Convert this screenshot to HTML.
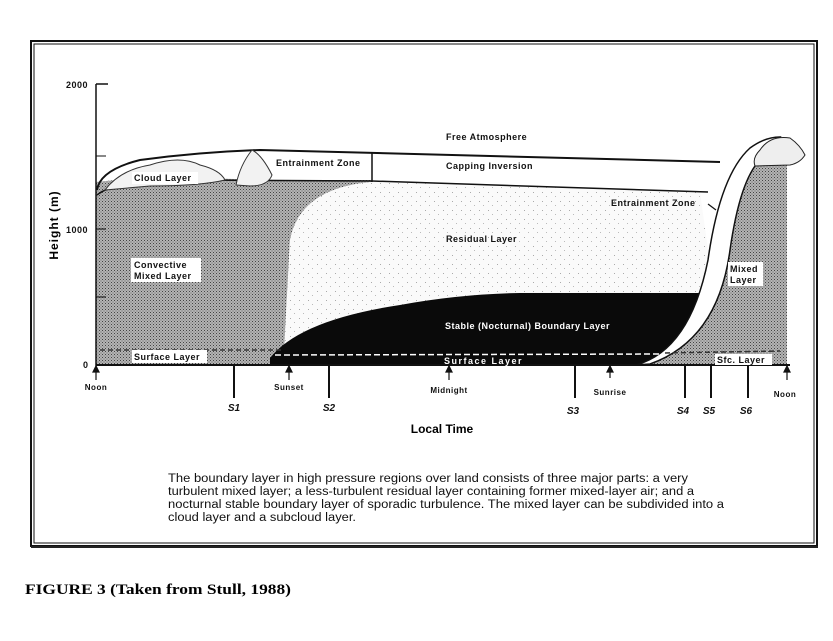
<!DOCTYPE html>
<html><head><meta charset="utf-8"><style>
html,body{margin:0;padding:0;background:#fff;}
svg{display:block;}
.l{font-family:"Liberation Sans",sans-serif;font-weight:bold;font-size:9px;fill:#111;letter-spacing:0.5px;}
</style></head><body>
<svg width="833" height="641" viewBox="0 0 833 641" xmlns="http://www.w3.org/2000/svg">
<defs>
<pattern id="dots" width="3" height="3" patternUnits="userSpaceOnUse">
<rect width="3" height="3" fill="#b4b4b4"/><rect width="1" height="1" fill="#444"/><rect x="1.5" y="1.5" width="1" height="1" fill="#666"/>
</pattern>
<pattern id="sp" width="9" height="9" patternUnits="userSpaceOnUse">
<rect width="9" height="9" fill="#fafafa"/><rect x="2" y="3" width="1" height="1" fill="#aaa"/><rect x="6" y="7" width="1" height="1" fill="#bbb"/>
</pattern>
</defs>
<!-- frame -->
<rect x="31" y="41" width="786" height="505" fill="none" stroke="#111" stroke-width="2"/>
<rect x="34" y="44" width="780" height="499" fill="none" stroke="#111" stroke-width="1"/>
<line x1="31" y1="547" x2="818" y2="547" stroke="#222" stroke-width="2"/>

<path d="M96 182 Q150 176 200 178 L270 180 L372 180 L372 182 Q300 188 290 240 L284 352 L270 365 L96 365 Z" fill="url(#dots)"/>
<path d="M372 182 L700 192 L715 300 L700 300 L640 365 L284 365 L284 352 L290 240 Q300 188 372 182 Z" fill="url(#sp)"/>
<path d="M270 358 Q300 320 400 305 Q460 294 520 293 L705 293 Q690 340 640 365 L270 365 Z" fill="#0a0a0a"/>
<path d="M640 365 Q700 345 718 260 Q730 190 755 166 L787 165 L787 365 Z" fill="url(#dots)"/>
<path d="M636 365 Q690 350 708 260 Q720 175 750 148 Q765 137 780 137 L760 160 Q740 180 730 250 Q718 340 650 364 Z" fill="#fff" stroke="#111" stroke-width="1.5"/>
<path d="M760 150 Q770 135 790 138 Q800 145 805 155 Q800 163 790 165 L755 166 Q752 158 760 150 Z" fill="#eee" stroke="#222" stroke-width="1"/>
<path d="M97 190 Q100 170 140 160 Q200 152 260 150 L720 162" fill="none" stroke="#111" stroke-width="2"/>
<path d="M372 181 L708 192" fill="none" stroke="#111" stroke-width="1.5"/>
<path d="M97 195 Q110 184 150 182 L200 180 L372 181" fill="none" stroke="#111" stroke-width="1.5"/>
<line x1="372" y1="152" x2="372" y2="182" stroke="#111" stroke-width="1.5"/>
<rect x="274" y="154" width="96" height="24" fill="#fff"/>
<path d="M105 190 Q120 170 150 165 Q180 155 200 165 Q220 170 225 180 Q200 186 150 186 Z" fill="#f2f2f2" stroke="#333" stroke-width="1"/>
<path d="M236 185 Q240 165 252 150 Q262 155 272 175 Q268 186 250 186 Z" fill="#f2f2f2" stroke="#333" stroke-width="1"/>
<line x1="100" y1="350" x2="284" y2="350" stroke="#333" stroke-width="1.5" stroke-dasharray="5,3"/>
<line x1="275" y1="355" x2="665" y2="354" stroke="#fff" stroke-width="1.5" stroke-dasharray="6,3"/>
<line x1="665" y1="353" x2="780" y2="351" stroke="#333" stroke-width="1.5" stroke-dasharray="5,3"/>
<line x1="96" y1="84" x2="96" y2="366" stroke="#111" stroke-width="1.5"/>
<line x1="96" y1="84" x2="108" y2="84" stroke="#111" stroke-width="1.5"/>
<line x1="96" y1="156" x2="106" y2="156" stroke="#111"/>
<line x1="96" y1="229" x2="106" y2="229" stroke="#111"/>
<line x1="96" y1="297" x2="106" y2="297" stroke="#111"/>
<line x1="96" y1="365" x2="790" y2="365" stroke="#111" stroke-width="2"/>
<text class="l" x="66" y="88">2000</text>
<text class="l" x="66" y="233">1000</text>
<text class="l" x="83" y="368">0</text>
<text x="58" y="225" transform="rotate(-90 58 225)" text-anchor="middle" style="font-family:'Liberation Sans',sans-serif;font-weight:bold;font-size:12px;letter-spacing:1px">Height (m)</text>
<g stroke="#111" stroke-width="2">
<line x1="234" y1="365" x2="234" y2="398"/><line x1="329" y1="365" x2="329" y2="398"/>
<line x1="575" y1="365" x2="575" y2="398"/><line x1="685" y1="365" x2="685" y2="398"/>
<line x1="711" y1="365" x2="711" y2="398"/><line x1="748" y1="365" x2="748" y2="398"/>
</g>
<g style="font-family:'Liberation Sans',sans-serif;font-weight:bold;font-style:italic;font-size:10px" fill="#111" text-anchor="middle">
<text x="234" y="411">S1</text><text x="329" y="411">S2</text><text x="573" y="414">S3</text>
<text x="683" y="414">S4</text><text x="709" y="414">S5</text><text x="746" y="414">S6</text>
</g>
<g stroke="#111" stroke-width="1.2" fill="#111">
<line x1="96" y1="366" x2="96" y2="380"/><path d="M93 372 L96 366 L99 372Z"/>
<line x1="289" y1="366" x2="289" y2="380"/><path d="M286 372 L289 366 L292 372Z"/>
<line x1="449" y1="366" x2="449" y2="380"/><path d="M446 372 L449 366 L452 372Z"/>
<line x1="610" y1="366" x2="610" y2="378"/><path d="M607 372 L610 366 L613 372Z"/>
<line x1="787" y1="366" x2="787" y2="380"/><path d="M784 372 L787 366 L790 372Z"/>
</g>
<g text-anchor="middle">
<text x="96" y="390" class="l" style="font-size:8px">Noon</text>
<text x="289" y="390" class="l" style="font-size:8px">Sunset</text>
<text x="449" y="393" class="l" style="font-size:8px">Midnight</text>
<text x="610" y="395" class="l" style="font-size:8px">Sunrise</text>
<text x="785" y="397" class="l" style="font-size:8px">Noon</text>
</g>
<text x="442" y="433" text-anchor="middle" style="font-family:'Liberation Sans',sans-serif;font-weight:bold;font-size:12px">Local Time</text>
<text class="l" x="446" y="140">Free Atmosphere</text>
<text class="l" x="446" y="169">Capping Inversion</text>
<text class="l" x="276" y="166">Entrainment Zone</text>
<rect x="132" y="172" width="66" height="12" fill="#fff"/>
<text class="l" x="134" y="181">Cloud Layer</text>
<rect x="131" y="258" width="70" height="24" fill="#fff"/>
<text class="l" x="134" y="268">Convective</text>
<text class="l" x="134" y="279">Mixed Layer</text>
<text class="l" x="446" y="242">Residual Layer</text>
<text class="l" x="611" y="206">Entrainment Zone</text>
<path d="M708 204 L716 210" stroke="#111" stroke-width="1.2"/>
<rect x="728" y="262" width="35" height="24" fill="#fff"/>
<text class="l" x="730" y="272">Mixed</text>
<text class="l" x="730" y="283">Layer</text>
<text class="l" x="445" y="329" style="fill:#fff;font-size:9px">Stable  (Nocturnal)  Boundary  Layer</text>
<text class="l" x="444" y="364" style="fill:#fff;letter-spacing:1.5px">Surface  Layer</text>
<rect x="132" y="350" width="75" height="13" fill="#fff"/>
<text class="l" x="134" y="360">Surface Layer</text>
<rect x="715" y="354" width="57" height="11" fill="#fff"/>
<text class="l" x="717" y="363">Sfc. Layer</text>
<g style="font-family:'Liberation Sans',sans-serif;font-size:11.5px" fill="#111">
<text x="168" y="482" textLength="520" lengthAdjust="spacingAndGlyphs">The boundary layer in high pressure regions over land consists of three major parts:  a very</text>
<text x="168" y="495" textLength="526" lengthAdjust="spacingAndGlyphs">turbulent mixed layer; a less-turbulent residual layer containing former mixed-layer air; and a</text>
<text x="168" y="508" textLength="556" lengthAdjust="spacingAndGlyphs">nocturnal stable boundary layer of sporadic turbulence.  The mixed layer can be subdivided into a</text>
<text x="168" y="521" textLength="188" lengthAdjust="spacingAndGlyphs">cloud layer and a subcloud layer.</text>
</g>
<text x="25" y="594" style="font-family:'Liberation Serif',serif;font-weight:bold;font-size:15px" textLength="266" lengthAdjust="spacingAndGlyphs">FIGURE 3 (Taken from Stull, 1988)</text>
</svg>
</body></html>
